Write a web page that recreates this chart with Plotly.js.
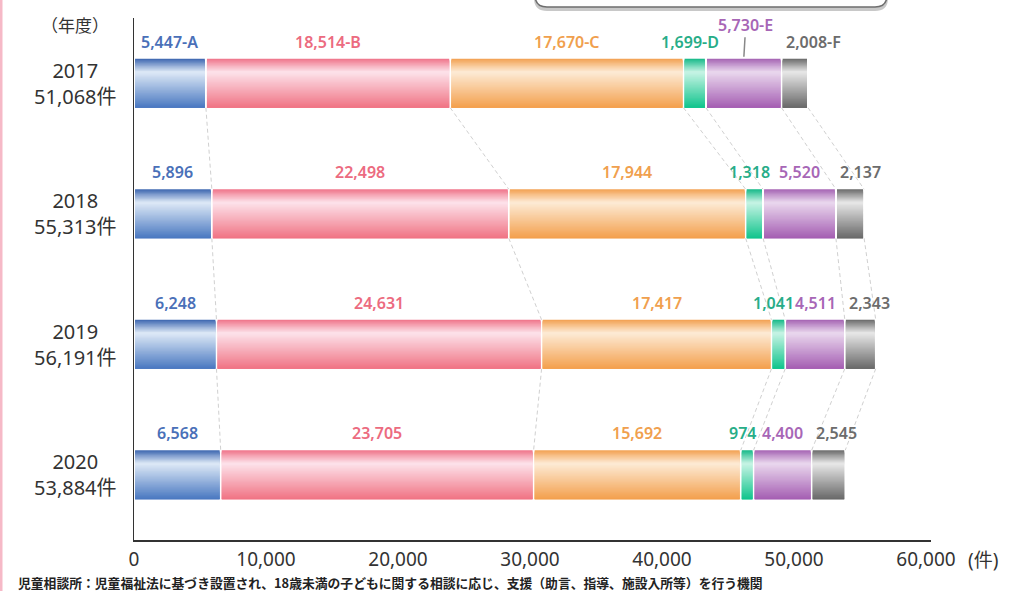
<!DOCTYPE html>
<html>
<head>
<meta charset="utf-8">
<script src="https://cdn.plot.ly/plotly-3.0.1.min.js"></script>
<style>html,body{margin:0;padding:0;background:#fff;}#chart{width:1020px;height:591px;}</style>
</head>
<body>
<div id="chart"></div>
<script>
// ---- data ----
const years = ['2017', '2018', '2019', '2020'];
const categoryKeys = ['A', 'B', 'C', 'D', 'E', 'F'];
const seriesA = [5447, 5896, 6248, 6568];
const seriesB = [18514, 22498, 24631, 23705];
const seriesC = [17670, 17944, 17417, 15692];
const seriesD = [1699, 1318, 1041, 974];
const seriesE = [5730, 5520, 4511, 4400];
const seriesF = [2008, 2137, 2343, 2545];
const xTickValues = [0, 10000, 20000, 30000, 40000, 50000, 60000];
const yearUnitLabel = '（年度）';
const countUnitLabel = '(件)';
const countSuffix = '件';
const footnoteText = '児童相談所：児童福祉法に基づき設置され、18歳未満の子どもに関する相談に応じ、支援（助言、指導、施設入所等）を行う機関';

// ---- style ----
const series = [seriesA, seriesB, seriesC, seriesD, seriesE, seriesF];
const gradients = [
  ['#3c66b0', '#dfeaf7', '#4877c0'],
  ['#ef7489', '#fde3eb', '#f07283'],
  ['#f3a152', '#fdebd6', '#f39f4c'],
  ['#16b988', '#c8f4e5', '#10c48c'],
  ['#a564b3', '#ead8ee', '#a45db2'],
  ['#6a6a6a', '#e8e8e8', '#686868']
];
const labelColors = ['#4a70b8', '#ec6b80', '#f0a04e', '#27ad88', '#a766b6', '#6c6c6c'];
const FONT = '"Noto Sans", "Noto Sans CJK JP", sans-serif';
const H = 0.376;          // bar thickness (y units)
const GAP = 80;           // half gap between segments (x units)
const SLICES = 40;
const HI_POS = 0.27;

function hex2rgb(h){ return [parseInt(h.slice(1,3),16), parseInt(h.slice(3,5),16), parseInt(h.slice(5,7),16)]; }
function mix(a, b, t){ const A = hex2rgb(a), B = hex2rgb(b); return 'rgb(' + A.map((v,i)=>Math.round(v + (B[i]-v)*t)).join(',') + ')'; }
function gradColor(g, t){
  if (t <= HI_POS) return mix(g[0], g[1], t / HI_POS);
  return mix(g[1], g[2], (t - HI_POS) / (1 - HI_POS));
}
const fmt = n => n.toLocaleString('en-US');

const yIdx = years.map((_, i) => i);
const starts = series.map((s, k) => yIdx.map(i => { let c = 0; for (let j = 0; j < k; j++) c += series[j][i]; return c; }));
const ends = series.map((s, k) => yIdx.map(i => starts[k][i] + s[i]));
const totals = yIdx.map(i => series.reduce((a, s) => a + s[i], 0));

const traces = [];

// connectors (dashed lines between bars)
const cx = [], cy = [];
for (let i = 0; i < years.length - 1; i++) {
  for (let k = 0; k < series.length; k++) {
    cx.push(ends[k][i], ends[k][i + 1], null);
    cy.push(i + H / 2, i + 1 - H / 2, null);
  }
}
traces.push({type: 'scatter', mode: 'lines', x: cx, y: cy, line: {color: '#d0d0d0', width: 1, dash: '4px,3px'}, hoverinfo: 'skip', showlegend: false});

// gradient bars built from overlapping horizontal slices
const sliceH = H / SLICES;
for (let k = 0; k < series.length; k++) {
  for (let s = 0; s < SLICES; s++) {
    const t = (s + 0.5) / SLICES;
    const remaining = H - s * sliceH;
    traces.push({
      type: 'bar', orientation: 'h',
      y: yIdx,
      x: series[k].map(v => v - 2 * GAP),
      base: starts[k].map(v => v + GAP),
      width: Math.min(remaining, sliceH * 3),
      offset: -H / 2 + s * sliceH,
      marker: {color: gradColor(gradients[k], t), line: {width: 0}},
      hoverinfo: 'skip', showlegend: false
    });
  }
}

const annotations = [];
for (let i = 0; i < years.length; i++) {
  for (let k = 0; k < series.length; k++) {
    const txt = fmt(series[k][i]) + (i === 0 ? '-' + categoryKeys[k] : '');
    const mid = starts[k][i] + series[k][i] / 2;
    const a = {
      x: mid, y: i - H / 2, xref: 'x', yref: 'y', text: txt, showarrow: false,
      xanchor: 'center', yanchor: 'middle', yshift: 17,
      font: {family: FONT, size: 16, color: labelColors[k], weight: 600}
    };
    if (k === 3) a.xshift = -5;
    if (k === 5) { a.x = starts[k][i]; a.xanchor = 'left'; a.xshift = 2; }
    if (i === 0 && k === 4) {
      a.showarrow = true; a.arrowhead = 0; a.arrowwidth = 1.5; a.arrowcolor = '#888';
      a.ax = 2; a.ay = -34; a.standoff = 2; a.yshift = 0;
    }
    annotations.push(a);
  }
}
for (let i = 0; i < years.length; i++) {
  annotations.push({
    x: 0, xref: 'paper', xshift: -59, y: i, yref: 'y', xanchor: 'center', yanchor: 'middle',
    text: years[i] + '<br>' + fmt(totals[i]) + countSuffix, showarrow: false, align: 'center',
    font: {family: FONT, size: 20, color: '#333'}
  });
}
annotations.push({x: 0, xref: 'paper', xshift: -59, y: 1, yref: 'paper', yshift: -7, xanchor: 'center', yanchor: 'middle',
  text: yearUnitLabel, showarrow: false, font: {family: FONT, size: 17, color: '#333'}});
annotations.push({x: 1, xref: 'paper', xshift: 52, y: 0, yref: 'paper', yshift: -20, xanchor: 'center', yanchor: 'middle',
  text: countUnitLabel, showarrow: false, font: {family: FONT, size: 19, color: '#333'}});
annotations.push({x: (16 - 134) / 797, xref: 'paper', xanchor: 'left', y: 0, yref: 'paper', yshift: -42, yanchor: 'middle',
  text: '<b>' + footnoteText + '</b>', showarrow: false, font: {family: '"Noto Sans CJK JP", sans-serif', size: 12.8, color: '#222'}});

// decorative shapes (pink page border, cropped callout box)
const px = p => (p - 134) / 797;
const py = p => (540 - p) / 522;
function boxPath(dy){
  const x0 = px(535), x1 = px(887), yb = py(7 + dy), yt = py(-30), rx = 12 / 797, ry = 12 / 522;
  return `M ${x0},${yt} L ${x0},${yb + ry} Q ${x0},${yb} ${x0 + rx},${yb} L ${x1 - rx},${yb} Q ${x1},${yb} ${x1},${yb + ry} L ${x1},${yt} Z`;
}
const shapes = [
  {type: 'rect', xref: 'paper', yref: 'paper', x0: px(0), x1: px(2.5), y0: -0.2, y1: 1.2, fillcolor: '#f6b9c7', line: {width: 0}},
  {type: 'path', xref: 'paper', yref: 'paper', path: boxPath(3), fillcolor: '#c8c8c8', line: {color: '#c8c8c8', width: 2}},
  {type: 'path', xref: 'paper', yref: 'paper', path: boxPath(0), fillcolor: '#ffffff', line: {color: '#6e6e6e', width: 1.5}}
];

const layout = {
  width: 1020, height: 591,
  margin: {l: 134, r: 89, t: 18, b: 51},
  paper_bgcolor: '#fff', plot_bgcolor: '#fff',
  barmode: 'overlay', showlegend: false,
  font: {family: FONT, color: '#333'},
  xaxis: {range: [0, 60380], tickvals: xTickValues, ticktext: xTickValues.map(fmt), showgrid: false, zeroline: false,
    showline: true, linecolor: '#333', linewidth: 1.5, ticks: '', ticklabelstandoff: 2,
    tickfont: {family: FONT, size: 19, color: '#333'}, fixedrange: true},
  yaxis: {range: [3.5, -0.5], showgrid: false, zeroline: false, showline: true, linecolor: '#333', linewidth: 1.5,
    showticklabels: false, ticks: '', fixedrange: true},
  annotations: annotations,
  shapes: shapes
};
Plotly.newPlot('chart', traces, layout, {displayModeBar: false, staticPlot: true});
</script>
</body>
</html>
